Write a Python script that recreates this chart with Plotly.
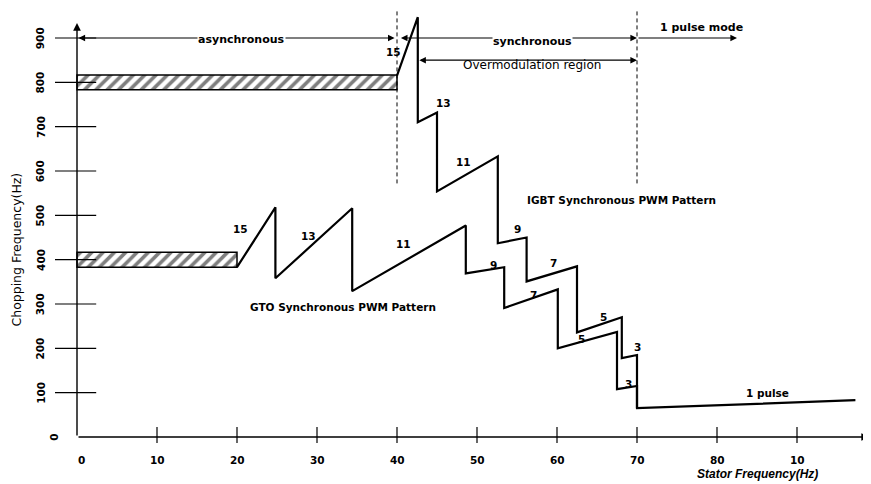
import plotly.graph_objects as go

# ---------------- data ----------------
igbt_f = [40.0, 42.6, 42.6, 45.0, 45.0, 52.6, 52.6, 56.2, 56.2, 62.5, 62.5, 68.1, 68.1, 70.0, 70.0]
igbt_y = [815, 947, 710, 732, 554, 633, 437, 450, 351, 385, 236, 270, 178, 185, 65]

gto_f = [20.0, 24.8, 24.8, 34.4, 34.4, 48.6, 48.6, 53.4, 53.4, 60.1, 60.1, 67.5, 67.5, 70.0, 70.0, 97.3]
gto_y = [383, 518, 358, 516, 329, 477, 369, 383, 291, 333, 200, 237, 108, 115, 65, 83]

async_bands_y = [800, 400]        # centre of hatched asynchronous bands
async_bands_h = [33, 34]          # band thickness (Hz of chopping)
async_bands_end = [40, 20]        # stator frequency where band ends

x_ticks = [0, 10, 20, 30, 40, 50, 60, 70, 80, 90]
x_tick_text = ["0", "10", "20", "30", "40", "50", "60", "70", "80", "10"]
y_ticks = [0, 100, 200, 300, 400, 500, 600, 700, 800, 900]
y_tick_text = ["0", "100", "200", "300", "400", "500", "600", "700", "800", "900"]

mode_bounds = [0, 40, 70, 82.5]   # asynchronous | synchronous | 1 pulse mode
overmod_bounds = [42.6, 70]

igbt_labels = ["15", "13", "11", "9", "7", "5", "3"]
igbt_label_f = [39.5, 45.8, 48.3, 55.1, 59.5, 65.8, 70.0]
igbt_label_y = [868, 753, 620, 469, 392, 271, 203]
gto_labels = ["15", "13", "11", "9", "7", "5", "3"]
gto_label_f = [20.4, 28.9, 40.8, 52.0, 57.0, 63.1, 68.9]
gto_label_y = [469, 453, 435, 388, 320, 221, 120]

FONT = "DejaVu Sans"
fig = go.Figure()

# tick marks crossing the axes
tx, ty = [], []
for v in x_ticks[1:]:
    tx += [v, v, None]
    ty += [-13.5, 22.5, None]
for v in y_ticks[1:]:
    tx += [-2.75, 2.4, None]
    ty += [v, v, None]
fig.add_trace(go.Scatter(x=tx, y=ty, mode="lines", line=dict(color="black", width=1.2),
                         hoverinfo="skip"))

# dashed boundaries
for b in mode_bounds[1:3]:
    fig.add_trace(go.Scatter(x=[b, b], y=[572, 962], mode="lines",
                             line=dict(color="black", width=1, dash="4px,3px"), hoverinfo="skip"))

# hatched asynchronous bands
fig.add_trace(go.Bar(orientation="h", y=async_bands_y, x=async_bands_end, base=[0, 0],
                     width=async_bands_h,
                     marker=dict(color="white", line=dict(color="black", width=1.5),
                                 pattern=dict(shape="/", fgcolor="black", bgcolor="white",
                                              size=8, solidity=0.45)),
                     hoverinfo="skip"))

# PWM patterns
fig.add_trace(go.Scatter(x=igbt_f, y=igbt_y, mode="lines", line=dict(color="black", width=2.2),
                         hoverinfo="skip"))
fig.add_trace(go.Scatter(x=gto_f, y=gto_y, mode="lines", line=dict(color="black", width=2.2),
                         hoverinfo="skip"))

ann = []
def arrow(x0, y0, x1, y1, both=False, w=1.2):
    ann.append(dict(x=x1, y=y1, ax=x0, ay=y0, xref="x", yref="y", axref="x", ayref="y",
                    text="", showarrow=True, arrowhead=2, startarrowhead=2, arrowsize=1.1,
                    arrowwidth=w, arrowcolor="black",
                    arrowside="end+start" if both else "end"))

def label(x, y, t, size=11, bold=True, angle=0, italic=False, bg=None, family=FONT):
    s = t
    if bold:
        s = "<b>" + s + "</b>"
    if italic:
        s = "<i>" + s + "</i>"
    d = dict(x=x, y=y, xref="x", yref="y", text=s, showarrow=False, textangle=angle,
             font=dict(family=family, size=size, color="black"), borderpad=0)
    if bg:
        d["bgcolor"] = bg
    ann.append(d)

# axes
arrow(0, 0, 0, 934, w=1.4)
arrow(0, 0, 99, 0, w=1.4)

# mode arrows
arrow(mode_bounds[0], 900, mode_bounds[1] - 0.3, 900, both=True)
arrow(mode_bounds[1] + 0.3, 900, mode_bounds[2], 900, both=True)
arrow(mode_bounds[2], 900, mode_bounds[3], 900)
arrow(overmod_bounds[0], 850, overmod_bounds[1], 850, both=True)

label(20.6, 896, "asynchronous", bg="white")
label(56.9, 893, "synchronous", bg="white")
label(78.1, 924, "1 pulse mode")
label(56.9, 839, "Overmodulation region", size=12, bold=False)

for t, x, y in zip(igbt_labels, igbt_label_f, igbt_label_y):
    label(x, y, t, size=10.5)
for t, x, y in zip(gto_labels, gto_label_f, gto_label_y):
    label(x, y, t, size=10.5)
label(86.3, 99, "1 pulse", size=10.5)
label(68.0, 535, "IGBT Synchronous PWM Pattern", size=10.5)
label(33.3, 293, "GTO Synchronous PWM Pattern", size=10.5)

# tick labels
for v, t in zip(x_ticks, x_tick_text):
    label(v + (0.6 if v == 0 else 0), -52, t, size=10.5)
for v, t in zip(y_ticks, y_tick_text):
    label(-2.9 if v == 0 else -4.6, v, t, size=10.5, angle=-90)

# axis titles
label(85.0, -83.5, "Stator Frequency(Hz)", size=12, italic=True, family="Liberation Sans")
label(-7.55, 422, "Chopping Frequency(Hz)", size=12.5, bold=False, angle=-90)

fig.update_layout(
    width=863, height=476, margin=dict(l=0, r=0, t=0, b=0),
    paper_bgcolor="white", plot_bgcolor="white", showlegend=False,
    barmode="overlay",
    xaxis=dict(range=[-8.625, 99.25], visible=False, fixedrange=True),
    yaxis=dict(range=[-106, 967.7], visible=False, fixedrange=True),
    annotations=ann,
)
fig.write_html("out.html")
